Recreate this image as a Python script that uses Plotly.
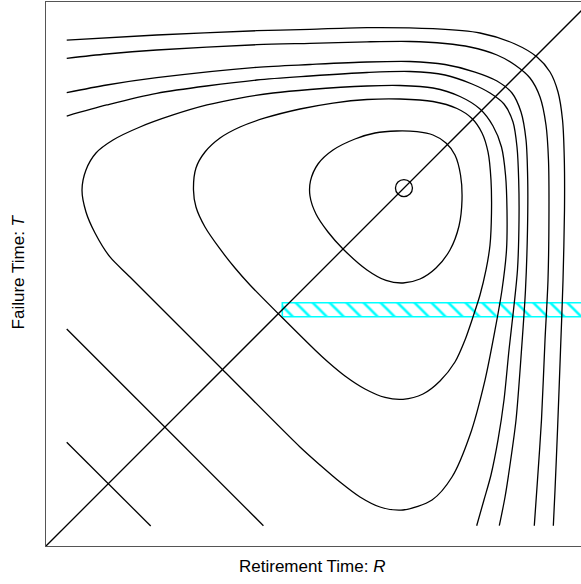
import plotly.graph_objects as go

# ---- data (axis units: 0..1 on both R and T) ----
# closed contour A (innermost, around the optimum)
A_R = [0.6447, 0.6820, 0.7114, 0.7353, 0.7518, 0.7620, 0.7647, 0.7592, 0.7426, 0.7169, 0.6875, 0.6563,
       0.6250, 0.5901, 0.5460, 0.5184, 0.4963, 0.4853, 0.4862, 0.5000, 0.5276, 0.5680, 0.6048, 0.6447]
A_T = [0.7629, 0.7616, 0.7555, 0.7408, 0.7188, 0.6820, 0.6360, 0.5882, 0.5441, 0.5110, 0.4908, 0.4835,
       0.4881, 0.5074, 0.5460, 0.5772, 0.6103, 0.6434, 0.6710, 0.7022, 0.7279, 0.7482, 0.7592, 0.7629]

# closed contour B
B_R = [0.2711, 0.2757, 0.2923, 0.3199, 0.3566, 0.4026, 0.4669, 0.5276, 0.5901, 0.6507, 0.7114, 0.7555,
       0.7831, 0.8015, 0.8125, 0.8180, 0.8189, 0.8162, 0.8088, 0.7978, 0.7849, 0.7702, 0.7518, 0.7243,
       0.6930, 0.6563, 0.6232, 0.5864, 0.5496, 0.5184, 0.4945, 0.3750, 0.3474, 0.3199, 0.2923, 0.2757,
       0.2711]
B_T = [0.6544, 0.6949, 0.7243, 0.7500, 0.7702, 0.7868, 0.8033, 0.8143, 0.8208, 0.8217, 0.8171, 0.8042,
       0.7858, 0.7592, 0.7243, 0.6728, 0.6121, 0.5533, 0.5074, 0.4614, 0.4210, 0.3787, 0.3382, 0.3033,
       0.2794, 0.2697, 0.2730, 0.2886, 0.3125, 0.3382, 0.3603, 0.4798, 0.5110, 0.5460, 0.5864, 0.6232,
       0.6544]

# closed contour C
C_R = [0.0662, 0.0735, 0.0919, 0.1232, 0.1728, 0.2335, 0.2960, 0.3566, 0.4173, 0.4853, 0.5901, 0.6507,
       0.7114, 0.7610, 0.7978, 0.8217, 0.8373, 0.8447, 0.8474, 0.8465, 0.8382, 0.8254, 0.8070, 0.7794,
       0.7463, 0.7096, 0.6563, 0.6140, 0.5772, 0.5404, 0.5037, 0.4669, 0.3235, 0.1544, 0.1176, 0.0901,
       0.0735, 0.0662]
C_T = [0.6544, 0.6912, 0.7224, 0.7463, 0.7702, 0.7923, 0.8107, 0.8235, 0.8327, 0.8392, 0.8456, 0.8465,
       0.8419, 0.8263, 0.8033, 0.7721, 0.7335, 0.6820, 0.6176, 0.5441, 0.4706, 0.3971, 0.3051, 0.2040,
       0.1268, 0.0846, 0.0662, 0.0717, 0.0901, 0.1176, 0.1489, 0.1820, 0.3254, 0.4945, 0.5313, 0.5754,
       0.6140, 0.6544]

# open contours D..G (left edge -> over the top -> down to the bottom edge)
D_R = [0.0381, 0.1116, 0.2035, 0.3873, 0.4853, 0.5901, 0.6691, 0.7335, 0.7831, 0.8162, 0.8419, 0.8585,
       0.8658, 0.8689, 0.8695, 0.8667, 0.8594, 0.8511, 0.8419, 0.8309, 0.8180, 0.8051, 0.7917]
D_T = [0.7904, 0.8107, 0.8322, 0.8566, 0.8640, 0.8704, 0.8722, 0.8658, 0.8493, 0.8327, 0.8125, 0.7794,
       0.7335, 0.6728, 0.5993, 0.5074, 0.4338, 0.3603, 0.2684, 0.1949, 0.1305, 0.0846, 0.0373]

E_R = [0.0381, 0.1116, 0.2035, 0.3873, 0.4853, 0.5901, 0.6691, 0.7335, 0.7886, 0.8290, 0.8566, 0.8732,
       0.8824, 0.8855, 0.8851, 0.8814, 0.8741, 0.8640, 0.8529, 0.8438, 0.8333]
E_T = [0.8333, 0.8474, 0.8608, 0.8800, 0.8851, 0.8897, 0.8906, 0.8851, 0.8713, 0.8548, 0.8327, 0.7978,
       0.7463, 0.6728, 0.5809, 0.4706, 0.3603, 0.2316, 0.1489, 0.0901, 0.0373]

F_R = [0.0381, 0.1116, 0.2035, 0.3873, 0.4853, 0.5901, 0.6691, 0.7335, 0.7794, 0.8290, 0.8621, 0.8897,
       0.9081, 0.9191, 0.9237, 0.9246, 0.9228, 0.9173, 0.9108, 0.9035, 0.8976]
F_T = [0.8965, 0.9044, 0.9118, 0.9215, 0.9241, 0.9268, 0.9274, 0.9237, 0.9173, 0.9026, 0.8842, 0.8603,
       0.8254, 0.7739, 0.7096, 0.6176, 0.4890, 0.3787, 0.2316, 0.1213, 0.0373]

G_R = [0.0381, 0.2035, 0.3873, 0.4853, 0.5901, 0.7114, 0.7978, 0.8621, 0.9026, 0.9265, 0.9412, 0.9495,
       0.9528, 0.9531, 0.9504, 0.9458, 0.9403, 0.9357, 0.9326]
G_T = [0.9301, 0.9393, 0.9472, 0.9498, 0.9529, 0.9509, 0.9430, 0.9228, 0.8989, 0.8713, 0.8346, 0.7831,
       0.7096, 0.6176, 0.4890, 0.3603, 0.2132, 0.1029, 0.0373]

# straight contours in the lower-left corner
H_R = [0.0381, 0.3997]
H_T = [0.3989, 0.0373]
I_R = [0.0381, 0.1925]
I_T = [0.1906, 0.0368]

# diagonal R = T, optimum, hatched band
diag_R = [0.0, 1.0]
diag_T = [0.0, 1.0]
opt_R = [0.658]
opt_T = [0.658]
band_R = [0.4344, 1.0]
band_T = [0.4215, 0.4472]

fig = go.Figure()

# hatched band
fig.add_trace(go.Scatter(
    x=[band_R[0], band_R[1], band_R[1], band_R[0], band_R[0]],
    y=[band_T[0], band_T[0], band_T[1], band_T[1], band_T[0]],
    mode="lines", fill="toself", fillcolor="rgba(0,0,0,0)",
    fillpattern=dict(shape="\\", fgcolor="#00FFFF", bgcolor="rgba(0,0,0,0)",
                     size=12, solidity=0.22, fillmode="replace"),
    line=dict(color="#00FFFF", width=1.6), hoverinfo="skip"))

for xs, ys in [(A_R, A_T), (B_R, B_T), (C_R, C_T), (D_R, D_T), (E_R, E_T), (F_R, F_T), (G_R, G_T)]:
    fig.add_trace(go.Scatter(x=xs, y=ys, mode="lines",
                             line=dict(color="black", width=1.3, shape="spline", smoothing=0.8)))
for xs, ys in [(H_R, H_T), (I_R, I_T), (diag_R, diag_T)]:
    fig.add_trace(go.Scatter(x=xs, y=ys, mode="lines", line=dict(color="black", width=1.3)))

fig.add_trace(go.Scatter(x=opt_R, y=opt_T, mode="markers",
                         marker=dict(symbol="circle-open", size=17, color="black",
                                     line=dict(width=1.3, color="black"))))

fig.update_layout(
    width=581, height=584,
    margin=dict(l=46, r=0, t=2, b=38),
    paper_bgcolor="white", plot_bgcolor="white",
    showlegend=False,
    font=dict(family="Liberation Sans, Arial, sans-serif", color="black"),
    xaxis=dict(range=[0, 535 / 544], showgrid=False, zeroline=False, showticklabels=False,
               ticks="", showline=True, linecolor="#555555", linewidth=1, mirror=True),
    yaxis=dict(range=[0, 1], showgrid=False, zeroline=False, showticklabels=False,
               ticks="", showline=True, linecolor="#555555", linewidth=1, mirror=False),
    annotations=[
        dict(text="Retirement Time: <i>R</i>", xref="paper", yref="paper",
             x=0.4963, y=-0.0386, xanchor="center", yanchor="middle", showarrow=False,
             font=dict(size=17)),
        dict(text="Failure Time: <i>T</i>", xref="paper", yref="paper",
             x=-0.0523, y=0.5030, xanchor="center", yanchor="middle", showarrow=False,
             textangle=-90, font=dict(size=17)),
    ],
)

fig.write_html("out.html")
